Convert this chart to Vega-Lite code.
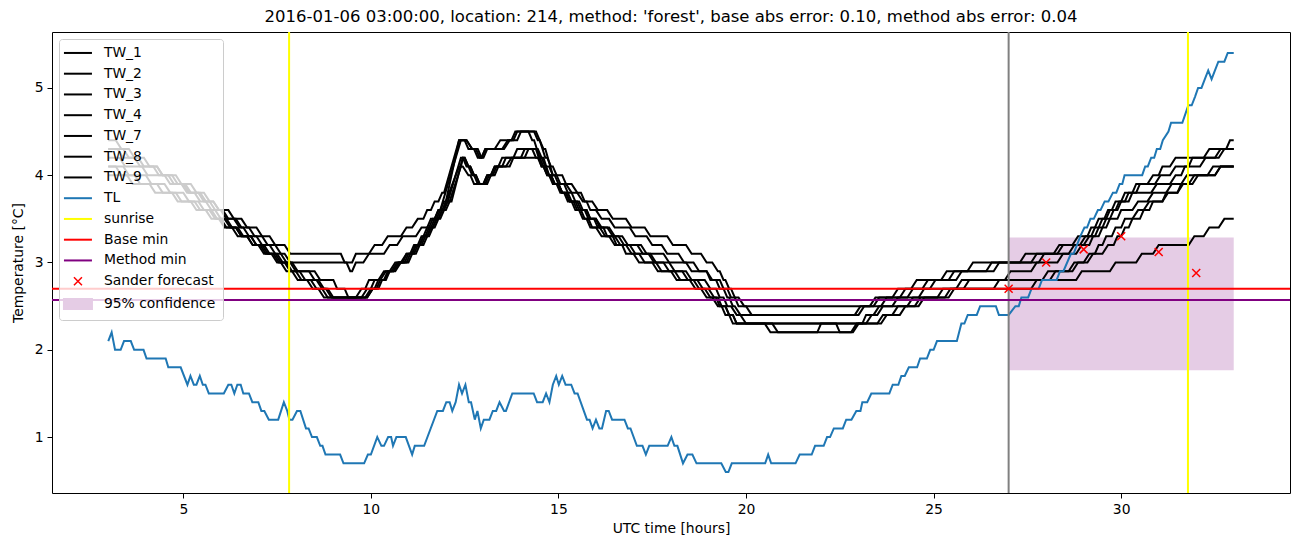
{
  "$schema": "https://vega.github.io/schema/vega-lite/v6.json",
  "width": 1238,
  "height": 461,
  "autosize": {"type": "none"},
  "padding": {"left": 52, "top": 32, "right": 12, "bottom": 54},
  "title": {"text": "2016-01-06 03:00:00, location: 214, method: 'forest', base abs error: 0.10, method abs error: 0.04", "font": "DejaVu Sans", "fontSize": 16.5, "fontWeight": "normal", "color": "black", "offset": 6, "anchor": "middle", "frame": "group"},
  "config": {
    "view": {"stroke": "black", "strokeWidth": 1},
    "axis": {"grid": false, "domain": false, "tickColor": "black", "tickSize": 5, "tickWidth": 1, "labelFont": "DejaVu Sans", "labelFontSize": 13.9, "labelColor": "black", "labelPadding": 4, "titleFont": "DejaVu Sans", "titleFontSize": 13.9, "titleFontWeight": "normal", "titleColor": "black"},
    "legend": {"orient": "top-left", "offset": 7, "padding": 7, "fillColor": "rgba(255,255,255,0.8)", "strokeColor": "#cccccc", "cornerRadius": 3, "labelFont": "DejaVu Sans", "labelFontSize": 13.9, "labelColor": "black", "symbolSize": 784, "symbolOffset": 5, "labelOffset": 19, "rowPadding": 5.75, "zindex": 1}
  },
  "datasets": {
    "tw": [
      {"s":"TW_1","h":3.0,"v":4.4},{"s":"TW_1","h":3.2,"v":4.4},{"s":"TW_1","h":3.35,"v":4.3},{"s":"TW_1","h":3.55,"v":4.3},{"s":"TW_1","h":3.7,"v":4.2},{"s":"TW_1","h":3.95,"v":4.2},{"s":"TW_1","h":4.1,"v":4.1},{"s":"TW_1","h":4.3,"v":4.1},{"s":"TW_1","h":4.45,"v":4.0},{"s":"TW_1","h":4.7,"v":4.0},{"s":"TW_1","h":4.85,"v":3.9},{"s":"TW_1","h":5.05,"v":3.9},{"s":"TW_1","h":5.2,"v":3.8},{"s":"TW_1","h":5.45,"v":3.8},{"s":"TW_1","h":5.6,"v":3.7},{"s":"TW_1","h":5.8,"v":3.7},{"s":"TW_1","h":5.95,"v":3.6},{"s":"TW_1","h":6.2,"v":3.6},{"s":"TW_1","h":6.35,"v":3.5},{"s":"TW_1","h":6.55,"v":3.5},{"s":"TW_1","h":6.7,"v":3.4},{"s":"TW_1","h":6.95,"v":3.4},{"s":"TW_1","h":7.1,"v":3.3},{"s":"TW_1","h":7.3,"v":3.3},{"s":"TW_1","h":7.45,"v":3.2},{"s":"TW_1","h":7.7,"v":3.2},{"s":"TW_1","h":7.85,"v":3.1},{"s":"TW_1","h":9.2,"v":3.1},{"s":"TW_1","h":9.3,"v":3.0},{"s":"TW_1","h":9.5,"v":3.0},{"s":"TW_1","h":9.6,"v":3.1},{"s":"TW_1","h":9.95,"v":3.1},{"s":"TW_1","h":10.1,"v":3.2},{"s":"TW_1","h":10.3,"v":3.2},{"s":"TW_1","h":10.45,"v":3.3},{"s":"TW_1","h":10.8,"v":3.3},{"s":"TW_1","h":10.95,"v":3.4},{"s":"TW_1","h":11.1,"v":3.4},{"s":"TW_1","h":11.25,"v":3.5},{"s":"TW_1","h":11.4,"v":3.5},{"s":"TW_1","h":11.5,"v":3.6},{"s":"TW_1","h":11.6,"v":3.6},{"s":"TW_1","h":11.7,"v":3.7},{"s":"TW_1","h":11.8,"v":3.7},{"s":"TW_1","h":11.9,"v":3.8},{"s":"TW_1","h":11.95,"v":3.8},{"s":"TW_1","h":12.35,"v":4.4},{"s":"TW_1","h":12.55,"v":4.4},{"s":"TW_1","h":12.7,"v":4.3},{"s":"TW_1","h":12.8,"v":4.3},{"s":"TW_1","h":12.9,"v":4.2},{"s":"TW_1","h":12.95,"v":4.2},{"s":"TW_1","h":13.05,"v":4.3},{"s":"TW_1","h":13.5,"v":4.3},{"s":"TW_1","h":13.65,"v":4.4},{"s":"TW_1","h":13.75,"v":4.4},{"s":"TW_1","h":13.85,"v":4.5},{"s":"TW_1","h":14.4,"v":4.5},{"s":"TW_1","h":14.6,"v":4.3},{"s":"TW_1","h":14.65,"v":4.3},{"s":"TW_1","h":14.85,"v":4.0},{"s":"TW_1","h":14.9,"v":4.0},{"s":"TW_1","h":15.0,"v":3.9},{"s":"TW_1","h":15.2,"v":3.9},{"s":"TW_1","h":15.35,"v":3.8},{"s":"TW_1","h":15.5,"v":3.8},{"s":"TW_1","h":15.65,"v":3.7},{"s":"TW_1","h":15.9,"v":3.7},{"s":"TW_1","h":16.05,"v":3.6},{"s":"TW_1","h":16.3,"v":3.6},{"s":"TW_1","h":16.45,"v":3.5},{"s":"TW_1","h":16.8,"v":3.5},{"s":"TW_1","h":16.95,"v":3.4},{"s":"TW_1","h":17.3,"v":3.4},{"s":"TW_1","h":17.45,"v":3.3},{"s":"TW_1","h":17.9,"v":3.3},{"s":"TW_1","h":18.05,"v":3.2},{"s":"TW_1","h":18.4,"v":3.2},{"s":"TW_1","h":18.55,"v":3.1},{"s":"TW_1","h":18.8,"v":3.1},{"s":"TW_1","h":18.95,"v":3.0},{"s":"TW_1","h":19.1,"v":3.0},{"s":"TW_1","h":19.25,"v":2.9},{"s":"TW_1","h":19.3,"v":2.9},{"s":"TW_1","h":19.4,"v":2.8},{"s":"TW_1","h":19.45,"v":2.8},{"s":"TW_1","h":19.55,"v":2.7},{"s":"TW_1","h":19.6,"v":2.7},{"s":"TW_1","h":19.7,"v":2.6},{"s":"TW_1","h":19.8,"v":2.6},{"s":"TW_1","h":19.95,"v":2.5},{"s":"TW_1","h":23.3,"v":2.5},{"s":"TW_1","h":23.45,"v":2.6},{"s":"TW_1","h":23.9,"v":2.6},{"s":"TW_1","h":24.05,"v":2.7},{"s":"TW_1","h":24.4,"v":2.7},{"s":"TW_1","h":24.55,"v":2.8},{"s":"TW_1","h":25.2,"v":2.8},{"s":"TW_1","h":25.35,"v":2.9},{"s":"TW_1","h":25.9,"v":2.9},{"s":"TW_1","h":26.05,"v":3.0},{"s":"TW_1","h":27.3,"v":3.0},{"s":"TW_1","h":27.45,"v":3.1},{"s":"TW_1","h":28.2,"v":3.1},{"s":"TW_1","h":28.35,"v":3.2},{"s":"TW_1","h":28.9,"v":3.2},{"s":"TW_1","h":29.05,"v":3.3},{"s":"TW_1","h":29.2,"v":3.3},{"s":"TW_1","h":29.3,"v":3.4},{"s":"TW_1","h":29.4,"v":3.4},{"s":"TW_1","h":29.5,"v":3.5},{"s":"TW_1","h":29.6,"v":3.5},{"s":"TW_1","h":29.7,"v":3.6},{"s":"TW_1","h":29.85,"v":3.6},{"s":"TW_1","h":29.95,"v":3.7},{"s":"TW_1","h":30.2,"v":3.7},{"s":"TW_1","h":30.3,"v":3.8},{"s":"TW_1","h":30.8,"v":3.8},{"s":"TW_1","h":30.95,"v":3.9},{"s":"TW_1","h":31.3,"v":3.9},{"s":"TW_1","h":31.45,"v":4.0},{"s":"TW_1","h":31.6,"v":4.0},{"s":"TW_1","h":31.7,"v":4.1},{"s":"TW_1","h":31.8,"v":4.1},{"s":"TW_1","h":31.9,"v":4.2},{"s":"TW_1","h":32.5,"v":4.2},{"s":"TW_1","h":32.65,"v":4.3},{"s":"TW_1","h":32.8,"v":4.3},{"s":"TW_1","h":32.9,"v":4.4},{"s":"TW_1","h":33.0,"v":4.4},

      {"s":"TW_2","h":3.0,"v":4.3},{"s":"TW_2","h":3.4,"v":4.3},{"s":"TW_2","h":3.55,"v":4.2},{"s":"TW_2","h":3.8,"v":4.2},{"s":"TW_2","h":3.95,"v":4.1},{"s":"TW_2","h":4.3,"v":4.1},{"s":"TW_2","h":4.45,"v":4.0},{"s":"TW_2","h":4.8,"v":4.0},{"s":"TW_2","h":4.95,"v":3.9},{"s":"TW_2","h":5.2,"v":3.9},{"s":"TW_2","h":5.35,"v":3.8},{"s":"TW_2","h":5.55,"v":3.8},{"s":"TW_2","h":5.7,"v":3.7},{"s":"TW_2","h":5.8,"v":3.7},{"s":"TW_2","h":5.95,"v":3.6},{"s":"TW_2","h":6.05,"v":3.6},{"s":"TW_2","h":6.2,"v":3.5},{"s":"TW_2","h":6.4,"v":3.5},{"s":"TW_2","h":6.55,"v":3.4},{"s":"TW_2","h":6.75,"v":3.4},{"s":"TW_2","h":6.9,"v":3.3},{"s":"TW_2","h":7.1,"v":3.3},{"s":"TW_2","h":7.25,"v":3.2},{"s":"TW_2","h":7.45,"v":3.2},{"s":"TW_2","h":7.6,"v":3.1},{"s":"TW_2","h":7.7,"v":3.1},{"s":"TW_2","h":7.85,"v":3.0},{"s":"TW_2","h":9.35,"v":3.0},{"s":"TW_2","h":9.45,"v":2.9},{"s":"TW_2","h":9.5,"v":2.9},{"s":"TW_2","h":9.6,"v":3.0},{"s":"TW_2","h":9.8,"v":3.0},{"s":"TW_2","h":9.95,"v":3.1},{"s":"TW_2","h":10.35,"v":3.1},{"s":"TW_2","h":10.5,"v":3.2},{"s":"TW_2","h":10.7,"v":3.2},{"s":"TW_2","h":10.85,"v":3.3},{"s":"TW_2","h":11.2,"v":3.3},{"s":"TW_2","h":11.35,"v":3.4},{"s":"TW_2","h":11.5,"v":3.4},{"s":"TW_2","h":11.6,"v":3.5},{"s":"TW_2","h":11.7,"v":3.5},{"s":"TW_2","h":11.8,"v":3.6},{"s":"TW_2","h":11.85,"v":3.6},{"s":"TW_2","h":12.4,"v":4.4},{"s":"TW_2","h":12.55,"v":4.4},{"s":"TW_2","h":12.7,"v":4.3},{"s":"TW_2","h":12.85,"v":4.3},{"s":"TW_2","h":12.95,"v":4.2},{"s":"TW_2","h":13.0,"v":4.2},{"s":"TW_2","h":13.1,"v":4.3},{"s":"TW_2","h":13.55,"v":4.3},{"s":"TW_2","h":13.7,"v":4.4},{"s":"TW_2","h":13.9,"v":4.4},{"s":"TW_2","h":14.0,"v":4.5},{"s":"TW_2","h":14.35,"v":4.5},{"s":"TW_2","h":14.45,"v":4.4},{"s":"TW_2","h":14.5,"v":4.4},{"s":"TW_2","h":14.65,"v":4.2},{"s":"TW_2","h":14.7,"v":4.2},{"s":"TW_2","h":14.8,"v":4.1},{"s":"TW_2","h":14.85,"v":4.1},{"s":"TW_2","h":14.95,"v":4.0},{"s":"TW_2","h":15.1,"v":4.0},{"s":"TW_2","h":15.2,"v":3.9},{"s":"TW_2","h":15.35,"v":3.9},{"s":"TW_2","h":15.5,"v":3.8},{"s":"TW_2","h":15.6,"v":3.8},{"s":"TW_2","h":15.7,"v":3.7},{"s":"TW_2","h":15.75,"v":3.7},{"s":"TW_2","h":15.85,"v":3.6},{"s":"TW_2","h":16.0,"v":3.6},{"s":"TW_2","h":16.15,"v":3.5},{"s":"TW_2","h":16.35,"v":3.5},{"s":"TW_2","h":16.5,"v":3.4},{"s":"TW_2","h":16.9,"v":3.4},{"s":"TW_2","h":17.05,"v":3.3},{"s":"TW_2","h":17.35,"v":3.3},{"s":"TW_2","h":17.5,"v":3.2},{"s":"TW_2","h":17.75,"v":3.2},{"s":"TW_2","h":17.9,"v":3.1},{"s":"TW_2","h":18.2,"v":3.1},{"s":"TW_2","h":18.35,"v":3.0},{"s":"TW_2","h":18.6,"v":3.0},{"s":"TW_2","h":18.75,"v":2.9},{"s":"TW_2","h":18.95,"v":2.9},{"s":"TW_2","h":19.1,"v":2.8},{"s":"TW_2","h":19.2,"v":2.8},{"s":"TW_2","h":19.3,"v":2.7},{"s":"TW_2","h":19.4,"v":2.7},{"s":"TW_2","h":19.5,"v":2.6},{"s":"TW_2","h":19.55,"v":2.6},{"s":"TW_2","h":19.65,"v":2.5},{"s":"TW_2","h":19.7,"v":2.5},{"s":"TW_2","h":19.85,"v":2.4},{"s":"TW_2","h":22.9,"v":2.4},{"s":"TW_2","h":23.05,"v":2.5},{"s":"TW_2","h":23.4,"v":2.5},{"s":"TW_2","h":23.55,"v":2.6},{"s":"TW_2","h":24.1,"v":2.6},{"s":"TW_2","h":24.25,"v":2.7},{"s":"TW_2","h":24.7,"v":2.7},{"s":"TW_2","h":24.85,"v":2.8},{"s":"TW_2","h":25.6,"v":2.8},{"s":"TW_2","h":25.75,"v":2.9},{"s":"TW_2","h":26.6,"v":2.9},{"s":"TW_2","h":26.75,"v":3.0},{"s":"TW_2","h":27.6,"v":3.0},{"s":"TW_2","h":27.75,"v":3.1},{"s":"TW_2","h":28.3,"v":3.1},{"s":"TW_2","h":28.45,"v":3.2},{"s":"TW_2","h":28.7,"v":3.2},{"s":"TW_2","h":28.85,"v":3.3},{"s":"TW_2","h":29.1,"v":3.3},{"s":"TW_2","h":29.2,"v":3.4},{"s":"TW_2","h":29.3,"v":3.4},{"s":"TW_2","h":29.4,"v":3.5},{"s":"TW_2","h":29.55,"v":3.5},{"s":"TW_2","h":29.65,"v":3.6},{"s":"TW_2","h":29.75,"v":3.6},{"s":"TW_2","h":29.85,"v":3.7},{"s":"TW_2","h":30.0,"v":3.7},{"s":"TW_2","h":30.1,"v":3.8},{"s":"TW_2","h":30.4,"v":3.8},{"s":"TW_2","h":30.5,"v":3.9},{"s":"TW_2","h":30.7,"v":3.9},{"s":"TW_2","h":30.85,"v":4.0},{"s":"TW_2","h":31.0,"v":4.0},{"s":"TW_2","h":31.1,"v":4.1},{"s":"TW_2","h":31.3,"v":4.1},{"s":"TW_2","h":31.45,"v":4.2},{"s":"TW_2","h":32.2,"v":4.2},{"s":"TW_2","h":32.35,"v":4.3},{"s":"TW_2","h":33.0,"v":4.3},

      {"s":"TW_3","h":3.0,"v":4.2},{"s":"TW_3","h":3.3,"v":4.2},{"s":"TW_3","h":3.45,"v":4.1},{"s":"TW_3","h":3.9,"v":4.1},{"s":"TW_3","h":4.05,"v":4.0},{"s":"TW_3","h":4.5,"v":4.0},{"s":"TW_3","h":4.65,"v":3.9},{"s":"TW_3","h":5.0,"v":3.9},{"s":"TW_3","h":5.15,"v":3.8},{"s":"TW_3","h":5.4,"v":3.8},{"s":"TW_3","h":5.55,"v":3.7},{"s":"TW_3","h":5.7,"v":3.7},{"s":"TW_3","h":5.85,"v":3.6},{"s":"TW_3","h":6.0,"v":3.6},{"s":"TW_3","h":6.15,"v":3.5},{"s":"TW_3","h":6.35,"v":3.5},{"s":"TW_3","h":6.5,"v":3.4},{"s":"TW_3","h":6.6,"v":3.4},{"s":"TW_3","h":6.75,"v":3.3},{"s":"TW_3","h":6.95,"v":3.3},{"s":"TW_3","h":7.1,"v":3.2},{"s":"TW_3","h":7.3,"v":3.2},{"s":"TW_3","h":7.45,"v":3.1},{"s":"TW_3","h":7.6,"v":3.1},{"s":"TW_3","h":7.75,"v":3.0},{"s":"TW_3","h":7.9,"v":3.0},{"s":"TW_3","h":8.05,"v":2.9},{"s":"TW_3","h":8.5,"v":2.9},{"s":"TW_3","h":8.65,"v":2.8},{"s":"TW_3","h":9.0,"v":2.8},{"s":"TW_3","h":9.1,"v":2.7},{"s":"TW_3","h":9.3,"v":2.7},{"s":"TW_3","h":9.4,"v":2.6},{"s":"TW_3","h":9.6,"v":2.6},{"s":"TW_3","h":9.75,"v":2.7},{"s":"TW_3","h":9.85,"v":2.7},{"s":"TW_3","h":9.95,"v":2.8},{"s":"TW_3","h":10.2,"v":2.8},{"s":"TW_3","h":10.35,"v":2.9},{"s":"TW_3","h":10.5,"v":2.9},{"s":"TW_3","h":10.65,"v":3.0},{"s":"TW_3","h":10.8,"v":3.0},{"s":"TW_3","h":10.95,"v":3.1},{"s":"TW_3","h":11.1,"v":3.1},{"s":"TW_3","h":11.2,"v":3.2},{"s":"TW_3","h":11.3,"v":3.2},{"s":"TW_3","h":11.4,"v":3.3},{"s":"TW_3","h":11.5,"v":3.3},{"s":"TW_3","h":11.6,"v":3.4},{"s":"TW_3","h":11.65,"v":3.4},{"s":"TW_3","h":11.75,"v":3.5},{"s":"TW_3","h":11.8,"v":3.5},{"s":"TW_3","h":11.9,"v":3.6},{"s":"TW_3","h":11.95,"v":3.6},{"s":"TW_3","h":12.35,"v":4.4},{"s":"TW_3","h":12.5,"v":4.4},{"s":"TW_3","h":12.6,"v":4.3},{"s":"TW_3","h":12.75,"v":4.3},{"s":"TW_3","h":12.85,"v":4.2},{"s":"TW_3","h":12.95,"v":4.2},{"s":"TW_3","h":13.05,"v":4.3},{"s":"TW_3","h":13.3,"v":4.3},{"s":"TW_3","h":13.45,"v":4.4},{"s":"TW_3","h":13.8,"v":4.4},{"s":"TW_3","h":13.9,"v":4.5},{"s":"TW_3","h":14.2,"v":4.5},{"s":"TW_3","h":14.3,"v":4.4},{"s":"TW_3","h":14.35,"v":4.4},{"s":"TW_3","h":14.5,"v":4.2},{"s":"TW_3","h":14.55,"v":4.2},{"s":"TW_3","h":14.65,"v":4.1},{"s":"TW_3","h":14.75,"v":4.1},{"s":"TW_3","h":14.85,"v":4.0},{"s":"TW_3","h":14.95,"v":4.0},{"s":"TW_3","h":15.05,"v":3.9},{"s":"TW_3","h":15.15,"v":3.9},{"s":"TW_3","h":15.25,"v":3.8},{"s":"TW_3","h":15.35,"v":3.8},{"s":"TW_3","h":15.45,"v":3.7},{"s":"TW_3","h":15.55,"v":3.7},{"s":"TW_3","h":15.65,"v":3.6},{"s":"TW_3","h":15.75,"v":3.6},{"s":"TW_3","h":15.85,"v":3.5},{"s":"TW_3","h":16.0,"v":3.5},{"s":"TW_3","h":16.15,"v":3.4},{"s":"TW_3","h":16.3,"v":3.4},{"s":"TW_3","h":16.45,"v":3.3},{"s":"TW_3","h":16.6,"v":3.3},{"s":"TW_3","h":16.75,"v":3.2},{"s":"TW_3","h":17.2,"v":3.2},{"s":"TW_3","h":17.35,"v":3.1},{"s":"TW_3","h":17.8,"v":3.1},{"s":"TW_3","h":17.95,"v":3.0},{"s":"TW_3","h":18.4,"v":3.0},{"s":"TW_3","h":18.55,"v":2.9},{"s":"TW_3","h":18.95,"v":2.9},{"s":"TW_3","h":19.05,"v":2.8},{"s":"TW_3","h":19.3,"v":2.8},{"s":"TW_3","h":19.4,"v":2.7},{"s":"TW_3","h":19.5,"v":2.7},{"s":"TW_3","h":19.6,"v":2.6},{"s":"TW_3","h":19.7,"v":2.6},{"s":"TW_3","h":19.8,"v":2.5},{"s":"TW_3","h":20.0,"v":2.5},{"s":"TW_3","h":20.15,"v":2.4},{"s":"TW_3","h":23.0,"v":2.4},{"s":"TW_3","h":23.15,"v":2.5},{"s":"TW_3","h":23.6,"v":2.5},{"s":"TW_3","h":23.75,"v":2.6},{"s":"TW_3","h":24.3,"v":2.6},{"s":"TW_3","h":24.45,"v":2.7},{"s":"TW_3","h":24.9,"v":2.7},{"s":"TW_3","h":25.05,"v":2.8},{"s":"TW_3","h":25.4,"v":2.8},{"s":"TW_3","h":25.55,"v":2.9},{"s":"TW_3","h":26.4,"v":2.9},{"s":"TW_3","h":26.55,"v":3.0},{"s":"TW_3","h":27.8,"v":3.0},{"s":"TW_3","h":27.95,"v":3.1},{"s":"TW_3","h":28.6,"v":3.1},{"s":"TW_3","h":28.75,"v":3.2},{"s":"TW_3","h":29.0,"v":3.2},{"s":"TW_3","h":29.15,"v":3.3},{"s":"TW_3","h":29.3,"v":3.3},{"s":"TW_3","h":29.4,"v":3.4},{"s":"TW_3","h":29.5,"v":3.4},{"s":"TW_3","h":29.6,"v":3.5},{"s":"TW_3","h":29.7,"v":3.5},{"s":"TW_3","h":29.8,"v":3.6},{"s":"TW_3","h":29.9,"v":3.6},{"s":"TW_3","h":30.0,"v":3.7},{"s":"TW_3","h":30.1,"v":3.7},{"s":"TW_3","h":30.2,"v":3.8},{"s":"TW_3","h":30.3,"v":3.8},{"s":"TW_3","h":30.4,"v":3.9},{"s":"TW_3","h":30.9,"v":3.9},{"s":"TW_3","h":31.05,"v":4.0},{"s":"TW_3","h":31.3,"v":4.0},{"s":"TW_3","h":31.45,"v":4.1},{"s":"TW_3","h":32.1,"v":4.1},{"s":"TW_3","h":32.25,"v":4.2},{"s":"TW_3","h":32.6,"v":4.2},{"s":"TW_3","h":32.75,"v":4.3},{"s":"TW_3","h":33.0,"v":4.3},

      {"s":"TW_4","h":3.0,"v":4.1},{"s":"TW_4","h":3.4,"v":4.1},{"s":"TW_4","h":3.55,"v":4.0},{"s":"TW_4","h":4.0,"v":4.0},{"s":"TW_4","h":4.15,"v":3.9},{"s":"TW_4","h":4.5,"v":3.9},{"s":"TW_4","h":4.65,"v":3.8},{"s":"TW_4","h":5.0,"v":3.8},{"s":"TW_4","h":5.15,"v":3.7},{"s":"TW_4","h":5.4,"v":3.7},{"s":"TW_4","h":5.55,"v":3.6},{"s":"TW_4","h":5.75,"v":3.6},{"s":"TW_4","h":5.9,"v":3.5},{"s":"TW_4","h":6.1,"v":3.5},{"s":"TW_4","h":6.25,"v":3.4},{"s":"TW_4","h":6.4,"v":3.4},{"s":"TW_4","h":6.55,"v":3.3},{"s":"TW_4","h":6.7,"v":3.3},{"s":"TW_4","h":6.85,"v":3.2},{"s":"TW_4","h":7.05,"v":3.2},{"s":"TW_4","h":7.2,"v":3.1},{"s":"TW_4","h":7.4,"v":3.1},{"s":"TW_4","h":7.55,"v":3.0},{"s":"TW_4","h":7.7,"v":3.0},{"s":"TW_4","h":7.85,"v":2.9},{"s":"TW_4","h":8.1,"v":2.9},{"s":"TW_4","h":8.25,"v":2.8},{"s":"TW_4","h":8.55,"v":2.8},{"s":"TW_4","h":8.7,"v":2.7},{"s":"TW_4","h":8.8,"v":2.7},{"s":"TW_4","h":8.95,"v":2.6},{"s":"TW_4","h":9.9,"v":2.6},{"s":"TW_4","h":10.05,"v":2.7},{"s":"TW_4","h":10.2,"v":2.7},{"s":"TW_4","h":10.3,"v":2.8},{"s":"TW_4","h":10.4,"v":2.8},{"s":"TW_4","h":10.5,"v":2.9},{"s":"TW_4","h":10.6,"v":2.9},{"s":"TW_4","h":10.75,"v":3.0},{"s":"TW_4","h":10.9,"v":3.0},{"s":"TW_4","h":11.0,"v":3.1},{"s":"TW_4","h":11.1,"v":3.1},{"s":"TW_4","h":11.2,"v":3.2},{"s":"TW_4","h":11.3,"v":3.2},{"s":"TW_4","h":11.4,"v":3.3},{"s":"TW_4","h":11.45,"v":3.3},{"s":"TW_4","h":11.55,"v":3.4},{"s":"TW_4","h":11.6,"v":3.4},{"s":"TW_4","h":11.7,"v":3.5},{"s":"TW_4","h":11.75,"v":3.5},{"s":"TW_4","h":11.85,"v":3.6},{"s":"TW_4","h":11.9,"v":3.6},{"s":"TW_4","h":12.0,"v":3.7},{"s":"TW_4","h":12.05,"v":3.7},{"s":"TW_4","h":12.4,"v":4.2},{"s":"TW_4","h":12.45,"v":4.2},{"s":"TW_4","h":12.55,"v":4.1},{"s":"TW_4","h":12.6,"v":4.1},{"s":"TW_4","h":12.7,"v":4.0},{"s":"TW_4","h":12.75,"v":4.0},{"s":"TW_4","h":12.85,"v":3.9},{"s":"TW_4","h":13.05,"v":3.9},{"s":"TW_4","h":13.15,"v":4.0},{"s":"TW_4","h":13.25,"v":4.0},{"s":"TW_4","h":13.35,"v":4.1},{"s":"TW_4","h":13.6,"v":4.1},{"s":"TW_4","h":13.75,"v":4.2},{"s":"TW_4","h":14.0,"v":4.2},{"s":"TW_4","h":14.1,"v":4.3},{"s":"TW_4","h":14.45,"v":4.3},{"s":"TW_4","h":14.55,"v":4.2},{"s":"TW_4","h":14.6,"v":4.2},{"s":"TW_4","h":14.75,"v":4.0},{"s":"TW_4","h":14.8,"v":4.0},{"s":"TW_4","h":14.9,"v":3.9},{"s":"TW_4","h":15.0,"v":3.9},{"s":"TW_4","h":15.1,"v":3.8},{"s":"TW_4","h":15.2,"v":3.8},{"s":"TW_4","h":15.3,"v":3.7},{"s":"TW_4","h":15.4,"v":3.7},{"s":"TW_4","h":15.5,"v":3.6},{"s":"TW_4","h":15.6,"v":3.6},{"s":"TW_4","h":15.7,"v":3.5},{"s":"TW_4","h":15.8,"v":3.5},{"s":"TW_4","h":15.9,"v":3.4},{"s":"TW_4","h":16.1,"v":3.4},{"s":"TW_4","h":16.25,"v":3.3},{"s":"TW_4","h":16.5,"v":3.3},{"s":"TW_4","h":16.65,"v":3.2},{"s":"TW_4","h":16.9,"v":3.2},{"s":"TW_4","h":17.05,"v":3.1},{"s":"TW_4","h":17.4,"v":3.1},{"s":"TW_4","h":17.55,"v":3.0},{"s":"TW_4","h":17.8,"v":3.0},{"s":"TW_4","h":17.95,"v":2.9},{"s":"TW_4","h":18.4,"v":2.9},{"s":"TW_4","h":18.55,"v":2.8},{"s":"TW_4","h":18.9,"v":2.8},{"s":"TW_4","h":19.05,"v":2.7},{"s":"TW_4","h":19.2,"v":2.7},{"s":"TW_4","h":19.3,"v":2.6},{"s":"TW_4","h":19.4,"v":2.6},{"s":"TW_4","h":19.5,"v":2.5},{"s":"TW_4","h":19.6,"v":2.5},{"s":"TW_4","h":19.75,"v":2.4},{"s":"TW_4","h":19.85,"v":2.4},{"s":"TW_4","h":20.0,"v":2.3},{"s":"TW_4","h":23.5,"v":2.3},{"s":"TW_4","h":23.65,"v":2.4},{"s":"TW_4","h":23.9,"v":2.4},{"s":"TW_4","h":24.05,"v":2.5},{"s":"TW_4","h":24.5,"v":2.5},{"s":"TW_4","h":24.65,"v":2.6},{"s":"TW_4","h":25.1,"v":2.6},{"s":"TW_4","h":25.25,"v":2.7},{"s":"TW_4","h":25.8,"v":2.7},{"s":"TW_4","h":25.95,"v":2.8},{"s":"TW_4","h":26.9,"v":2.8},{"s":"TW_4","h":27.05,"v":2.9},{"s":"TW_4","h":27.6,"v":2.9},{"s":"TW_4","h":27.75,"v":3.0},{"s":"TW_4","h":28.3,"v":3.0},{"s":"TW_4","h":28.45,"v":3.1},{"s":"TW_4","h":28.8,"v":3.1},{"s":"TW_4","h":28.95,"v":3.2},{"s":"TW_4","h":29.15,"v":3.2},{"s":"TW_4","h":29.25,"v":3.3},{"s":"TW_4","h":29.4,"v":3.3},{"s":"TW_4","h":29.5,"v":3.4},{"s":"TW_4","h":29.6,"v":3.4},{"s":"TW_4","h":29.7,"v":3.5},{"s":"TW_4","h":29.9,"v":3.5},{"s":"TW_4","h":30.0,"v":3.6},{"s":"TW_4","h":30.3,"v":3.6},{"s":"TW_4","h":30.45,"v":3.7},{"s":"TW_4","h":30.7,"v":3.7},{"s":"TW_4","h":30.85,"v":3.8},{"s":"TW_4","h":31.2,"v":3.8},{"s":"TW_4","h":31.35,"v":3.9},{"s":"TW_4","h":31.6,"v":3.9},{"s":"TW_4","h":31.75,"v":4.0},{"s":"TW_4","h":32.3,"v":4.0},{"s":"TW_4","h":32.45,"v":4.1},{"s":"TW_4","h":33.0,"v":4.1},

      {"s":"TW_7","h":3.0,"v":4.1},{"s":"TW_7","h":3.2,"v":4.1},{"s":"TW_7","h":3.35,"v":4.0},{"s":"TW_7","h":3.7,"v":4.0},{"s":"TW_7","h":3.85,"v":3.9},{"s":"TW_7","h":4.3,"v":3.9},{"s":"TW_7","h":4.45,"v":3.8},{"s":"TW_7","h":4.8,"v":3.8},{"s":"TW_7","h":4.95,"v":3.7},{"s":"TW_7","h":5.3,"v":3.7},{"s":"TW_7","h":5.45,"v":3.6},{"s":"TW_7","h":5.7,"v":3.6},{"s":"TW_7","h":5.85,"v":3.5},{"s":"TW_7","h":6.0,"v":3.5},{"s":"TW_7","h":6.15,"v":3.4},{"s":"TW_7","h":6.4,"v":3.4},{"s":"TW_7","h":6.55,"v":3.3},{"s":"TW_7","h":6.8,"v":3.3},{"s":"TW_7","h":6.95,"v":3.2},{"s":"TW_7","h":7.1,"v":3.2},{"s":"TW_7","h":7.25,"v":3.1},{"s":"TW_7","h":7.45,"v":3.1},{"s":"TW_7","h":7.6,"v":3.0},{"s":"TW_7","h":7.75,"v":3.0},{"s":"TW_7","h":7.9,"v":2.9},{"s":"TW_7","h":8.0,"v":2.9},{"s":"TW_7","h":8.15,"v":2.8},{"s":"TW_7","h":8.4,"v":2.8},{"s":"TW_7","h":8.55,"v":2.7},{"s":"TW_7","h":8.7,"v":2.7},{"s":"TW_7","h":8.85,"v":2.6},{"s":"TW_7","h":9.75,"v":2.6},{"s":"TW_7","h":9.9,"v":2.7},{"s":"TW_7","h":10.0,"v":2.7},{"s":"TW_7","h":10.1,"v":2.8},{"s":"TW_7","h":10.25,"v":2.8},{"s":"TW_7","h":10.4,"v":2.9},{"s":"TW_7","h":10.55,"v":2.9},{"s":"TW_7","h":10.7,"v":3.0},{"s":"TW_7","h":10.85,"v":3.0},{"s":"TW_7","h":10.95,"v":3.1},{"s":"TW_7","h":11.05,"v":3.1},{"s":"TW_7","h":11.15,"v":3.2},{"s":"TW_7","h":11.25,"v":3.2},{"s":"TW_7","h":11.35,"v":3.3},{"s":"TW_7","h":11.4,"v":3.3},{"s":"TW_7","h":11.5,"v":3.4},{"s":"TW_7","h":11.55,"v":3.4},{"s":"TW_7","h":11.65,"v":3.5},{"s":"TW_7","h":11.7,"v":3.5},{"s":"TW_7","h":11.8,"v":3.6},{"s":"TW_7","h":11.85,"v":3.6},{"s":"TW_7","h":11.95,"v":3.7},{"s":"TW_7","h":12.0,"v":3.7},{"s":"TW_7","h":12.35,"v":4.1},{"s":"TW_7","h":12.4,"v":4.1},{"s":"TW_7","h":12.45,"v":4.2},{"s":"TW_7","h":12.5,"v":4.2},{"s":"TW_7","h":12.6,"v":4.1},{"s":"TW_7","h":12.65,"v":4.1},{"s":"TW_7","h":12.75,"v":4.0},{"s":"TW_7","h":12.8,"v":4.0},{"s":"TW_7","h":12.9,"v":3.9},{"s":"TW_7","h":13.0,"v":3.9},{"s":"TW_7","h":13.1,"v":4.0},{"s":"TW_7","h":13.2,"v":4.0},{"s":"TW_7","h":13.3,"v":4.1},{"s":"TW_7","h":13.4,"v":4.1},{"s":"TW_7","h":13.5,"v":4.2},{"s":"TW_7","h":13.8,"v":4.2},{"s":"TW_7","h":13.9,"v":4.3},{"s":"TW_7","h":14.3,"v":4.3},{"s":"TW_7","h":14.4,"v":4.2},{"s":"TW_7","h":14.45,"v":4.2},{"s":"TW_7","h":14.55,"v":4.1},{"s":"TW_7","h":14.6,"v":4.1},{"s":"TW_7","h":14.7,"v":4.0},{"s":"TW_7","h":14.75,"v":4.0},{"s":"TW_7","h":14.85,"v":3.9},{"s":"TW_7","h":14.95,"v":3.9},{"s":"TW_7","h":15.05,"v":3.8},{"s":"TW_7","h":15.15,"v":3.8},{"s":"TW_7","h":15.25,"v":3.7},{"s":"TW_7","h":15.35,"v":3.7},{"s":"TW_7","h":15.45,"v":3.6},{"s":"TW_7","h":15.55,"v":3.6},{"s":"TW_7","h":15.65,"v":3.5},{"s":"TW_7","h":15.75,"v":3.5},{"s":"TW_7","h":15.85,"v":3.4},{"s":"TW_7","h":16.0,"v":3.4},{"s":"TW_7","h":16.15,"v":3.3},{"s":"TW_7","h":16.35,"v":3.3},{"s":"TW_7","h":16.5,"v":3.2},{"s":"TW_7","h":16.8,"v":3.2},{"s":"TW_7","h":16.95,"v":3.1},{"s":"TW_7","h":17.15,"v":3.1},{"s":"TW_7","h":17.3,"v":3.0},{"s":"TW_7","h":17.6,"v":3.0},{"s":"TW_7","h":17.75,"v":2.9},{"s":"TW_7","h":18.1,"v":2.9},{"s":"TW_7","h":18.25,"v":2.8},{"s":"TW_7","h":18.6,"v":2.8},{"s":"TW_7","h":18.75,"v":2.7},{"s":"TW_7","h":18.9,"v":2.7},{"s":"TW_7","h":19.05,"v":2.6},{"s":"TW_7","h":19.2,"v":2.6},{"s":"TW_7","h":19.3,"v":2.5},{"s":"TW_7","h":19.45,"v":2.5},{"s":"TW_7","h":19.55,"v":2.4},{"s":"TW_7","h":19.65,"v":2.4},{"s":"TW_7","h":19.75,"v":2.3},{"s":"TW_7","h":23.6,"v":2.3},{"s":"TW_7","h":23.75,"v":2.4},{"s":"TW_7","h":24.1,"v":2.4},{"s":"TW_7","h":24.25,"v":2.5},{"s":"TW_7","h":24.6,"v":2.5},{"s":"TW_7","h":24.75,"v":2.6},{"s":"TW_7","h":25.3,"v":2.6},{"s":"TW_7","h":25.45,"v":2.7},{"s":"TW_7","h":26.6,"v":2.7},{"s":"TW_7","h":26.75,"v":2.8},{"s":"TW_7","h":27.9,"v":2.8},{"s":"TW_7","h":28.05,"v":2.9},{"s":"TW_7","h":28.6,"v":2.9},{"s":"TW_7","h":28.75,"v":3.0},{"s":"TW_7","h":29.0,"v":3.0},{"s":"TW_7","h":29.15,"v":3.1},{"s":"TW_7","h":29.3,"v":3.1},{"s":"TW_7","h":29.4,"v":3.2},{"s":"TW_7","h":29.5,"v":3.2},{"s":"TW_7","h":29.6,"v":3.3},{"s":"TW_7","h":29.75,"v":3.3},{"s":"TW_7","h":29.85,"v":3.4},{"s":"TW_7","h":30.0,"v":3.4},{"s":"TW_7","h":30.1,"v":3.5},{"s":"TW_7","h":30.3,"v":3.5},{"s":"TW_7","h":30.45,"v":3.6},{"s":"TW_7","h":30.6,"v":3.6},{"s":"TW_7","h":30.75,"v":3.7},{"s":"TW_7","h":31.1,"v":3.7},{"s":"TW_7","h":31.25,"v":3.8},{"s":"TW_7","h":31.5,"v":3.8},{"s":"TW_7","h":31.65,"v":3.9},{"s":"TW_7","h":31.8,"v":3.9},{"s":"TW_7","h":31.95,"v":4.0},{"s":"TW_7","h":32.5,"v":4.0},{"s":"TW_7","h":32.65,"v":4.1},{"s":"TW_7","h":33.0,"v":4.1},

      {"s":"TW_8","h":3.0,"v":4.0},{"s":"TW_8","h":3.5,"v":4.0},{"s":"TW_8","h":3.65,"v":3.9},{"s":"TW_8","h":4.1,"v":3.9},{"s":"TW_8","h":4.25,"v":3.8},{"s":"TW_8","h":4.7,"v":3.8},{"s":"TW_8","h":4.85,"v":3.7},{"s":"TW_8","h":5.2,"v":3.7},{"s":"TW_8","h":5.35,"v":3.6},{"s":"TW_8","h":5.6,"v":3.6},{"s":"TW_8","h":5.75,"v":3.5},{"s":"TW_8","h":5.95,"v":3.5},{"s":"TW_8","h":6.1,"v":3.4},{"s":"TW_8","h":6.3,"v":3.4},{"s":"TW_8","h":6.45,"v":3.3},{"s":"TW_8","h":6.7,"v":3.3},{"s":"TW_8","h":6.85,"v":3.2},{"s":"TW_8","h":7.0,"v":3.2},{"s":"TW_8","h":7.15,"v":3.1},{"s":"TW_8","h":7.35,"v":3.1},{"s":"TW_8","h":7.5,"v":3.0},{"s":"TW_8","h":7.6,"v":3.0},{"s":"TW_8","h":7.75,"v":2.9},{"s":"TW_8","h":7.9,"v":2.9},{"s":"TW_8","h":8.05,"v":2.8},{"s":"TW_8","h":8.3,"v":2.8},{"s":"TW_8","h":8.45,"v":2.7},{"s":"TW_8","h":8.6,"v":2.7},{"s":"TW_8","h":8.75,"v":2.6},{"s":"TW_8","h":9.85,"v":2.6},{"s":"TW_8","h":10.0,"v":2.7},{"s":"TW_8","h":10.1,"v":2.7},{"s":"TW_8","h":10.2,"v":2.8},{"s":"TW_8","h":10.35,"v":2.8},{"s":"TW_8","h":10.5,"v":2.9},{"s":"TW_8","h":10.65,"v":2.9},{"s":"TW_8","h":10.8,"v":3.0},{"s":"TW_8","h":11.0,"v":3.0},{"s":"TW_8","h":11.1,"v":3.1},{"s":"TW_8","h":11.2,"v":3.1},{"s":"TW_8","h":11.3,"v":3.2},{"s":"TW_8","h":11.4,"v":3.2},{"s":"TW_8","h":11.5,"v":3.3},{"s":"TW_8","h":11.55,"v":3.3},{"s":"TW_8","h":11.65,"v":3.4},{"s":"TW_8","h":11.7,"v":3.4},{"s":"TW_8","h":11.8,"v":3.5},{"s":"TW_8","h":11.85,"v":3.5},{"s":"TW_8","h":11.95,"v":3.6},{"s":"TW_8","h":12.0,"v":3.6},{"s":"TW_8","h":12.1,"v":3.7},{"s":"TW_8","h":12.15,"v":3.7},{"s":"TW_8","h":12.45,"v":4.2},{"s":"TW_8","h":12.5,"v":4.2},{"s":"TW_8","h":12.6,"v":4.1},{"s":"TW_8","h":12.65,"v":4.1},{"s":"TW_8","h":12.75,"v":4.0},{"s":"TW_8","h":12.8,"v":4.0},{"s":"TW_8","h":12.9,"v":3.9},{"s":"TW_8","h":13.1,"v":3.9},{"s":"TW_8","h":13.2,"v":4.0},{"s":"TW_8","h":13.3,"v":4.0},{"s":"TW_8","h":13.4,"v":4.1},{"s":"TW_8","h":13.7,"v":4.1},{"s":"TW_8","h":13.8,"v":4.2},{"s":"TW_8","h":14.5,"v":4.2},{"s":"TW_8","h":14.6,"v":4.1},{"s":"TW_8","h":14.65,"v":4.1},{"s":"TW_8","h":14.75,"v":4.0},{"s":"TW_8","h":14.8,"v":4.0},{"s":"TW_8","h":14.9,"v":3.9},{"s":"TW_8","h":15.0,"v":3.9},{"s":"TW_8","h":15.1,"v":3.8},{"s":"TW_8","h":15.2,"v":3.8},{"s":"TW_8","h":15.3,"v":3.7},{"s":"TW_8","h":15.45,"v":3.7},{"s":"TW_8","h":15.55,"v":3.6},{"s":"TW_8","h":15.7,"v":3.6},{"s":"TW_8","h":15.8,"v":3.5},{"s":"TW_8","h":15.95,"v":3.5},{"s":"TW_8","h":16.05,"v":3.4},{"s":"TW_8","h":16.2,"v":3.4},{"s":"TW_8","h":16.3,"v":3.3},{"s":"TW_8","h":16.45,"v":3.3},{"s":"TW_8","h":16.55,"v":3.2},{"s":"TW_8","h":16.7,"v":3.2},{"s":"TW_8","h":16.8,"v":3.1},{"s":"TW_8","h":17.0,"v":3.1},{"s":"TW_8","h":17.15,"v":3.0},{"s":"TW_8","h":17.5,"v":3.0},{"s":"TW_8","h":17.65,"v":2.9},{"s":"TW_8","h":18.0,"v":2.9},{"s":"TW_8","h":18.15,"v":2.8},{"s":"TW_8","h":18.5,"v":2.8},{"s":"TW_8","h":18.65,"v":2.7},{"s":"TW_8","h":18.8,"v":2.7},{"s":"TW_8","h":18.95,"v":2.6},{"s":"TW_8","h":19.1,"v":2.6},{"s":"TW_8","h":19.25,"v":2.5},{"s":"TW_8","h":19.35,"v":2.5},{"s":"TW_8","h":19.45,"v":2.4},{"s":"TW_8","h":19.55,"v":2.4},{"s":"TW_8","h":19.65,"v":2.3},{"s":"TW_8","h":20.7,"v":2.3},{"s":"TW_8","h":20.85,"v":2.2},{"s":"TW_8","h":21.9,"v":2.2},{"s":"TW_8","h":22.0,"v":2.3},{"s":"TW_8","h":22.4,"v":2.3},{"s":"TW_8","h":22.5,"v":2.2},{"s":"TW_8","h":22.85,"v":2.2},{"s":"TW_8","h":23.0,"v":2.3},{"s":"TW_8","h":23.1,"v":2.3},{"s":"TW_8","h":23.2,"v":2.4},{"s":"TW_8","h":23.4,"v":2.4},{"s":"TW_8","h":23.55,"v":2.5},{"s":"TW_8","h":23.9,"v":2.5},{"s":"TW_8","h":24.05,"v":2.6},{"s":"TW_8","h":24.6,"v":2.6},{"s":"TW_8","h":24.75,"v":2.7},{"s":"TW_8","h":25.6,"v":2.7},{"s":"TW_8","h":25.75,"v":2.8},{"s":"TW_8","h":28.1,"v":2.8},{"s":"TW_8","h":28.25,"v":2.9},{"s":"TW_8","h":28.7,"v":2.9},{"s":"TW_8","h":28.85,"v":3.0},{"s":"TW_8","h":29.1,"v":3.0},{"s":"TW_8","h":29.25,"v":3.1},{"s":"TW_8","h":29.5,"v":3.1},{"s":"TW_8","h":29.65,"v":3.2},{"s":"TW_8","h":29.8,"v":3.2},{"s":"TW_8","h":29.9,"v":3.3},{"s":"TW_8","h":30.0,"v":3.3},{"s":"TW_8","h":30.1,"v":3.4},{"s":"TW_8","h":30.2,"v":3.4},{"s":"TW_8","h":30.3,"v":3.5},{"s":"TW_8","h":30.5,"v":3.5},{"s":"TW_8","h":30.6,"v":3.6},{"s":"TW_8","h":30.75,"v":3.6},{"s":"TW_8","h":30.85,"v":3.7},{"s":"TW_8","h":31.1,"v":3.7},{"s":"TW_8","h":31.2,"v":3.8},{"s":"TW_8","h":31.5,"v":3.8},{"s":"TW_8","h":31.6,"v":3.9},{"s":"TW_8","h":31.9,"v":3.9},{"s":"TW_8","h":32.05,"v":4.0},{"s":"TW_8","h":32.5,"v":4.0},{"s":"TW_8","h":32.65,"v":4.1},{"s":"TW_8","h":33.0,"v":4.1},

      {"s":"TW_9","h":3.0,"v":4.3},{"s":"TW_9","h":3.25,"v":4.3},{"s":"TW_9","h":3.4,"v":4.2},{"s":"TW_9","h":3.7,"v":4.2},{"s":"TW_9","h":3.85,"v":4.1},{"s":"TW_9","h":4.2,"v":4.1},{"s":"TW_9","h":4.35,"v":4.0},{"s":"TW_9","h":4.6,"v":4.0},{"s":"TW_9","h":4.75,"v":3.9},{"s":"TW_9","h":4.95,"v":3.9},{"s":"TW_9","h":5.1,"v":3.8},{"s":"TW_9","h":5.3,"v":3.8},{"s":"TW_9","h":5.45,"v":3.7},{"s":"TW_9","h":5.6,"v":3.7},{"s":"TW_9","h":5.75,"v":3.6},{"s":"TW_9","h":5.85,"v":3.6},{"s":"TW_9","h":6.0,"v":3.5},{"s":"TW_9","h":6.15,"v":3.5},{"s":"TW_9","h":6.3,"v":3.4},{"s":"TW_9","h":6.45,"v":3.4},{"s":"TW_9","h":6.6,"v":3.3},{"s":"TW_9","h":6.8,"v":3.3},{"s":"TW_9","h":6.95,"v":3.2},{"s":"TW_9","h":7.15,"v":3.2},{"s":"TW_9","h":7.3,"v":3.1},{"s":"TW_9","h":7.5,"v":3.1},{"s":"TW_9","h":7.65,"v":3.0},{"s":"TW_9","h":7.85,"v":3.0},{"s":"TW_9","h":8.0,"v":2.9},{"s":"TW_9","h":8.35,"v":2.9},{"s":"TW_9","h":8.5,"v":2.8},{"s":"TW_9","h":8.6,"v":2.8},{"s":"TW_9","h":8.75,"v":2.7},{"s":"TW_9","h":8.85,"v":2.7},{"s":"TW_9","h":9.0,"v":2.6},{"s":"TW_9","h":9.9,"v":2.6},{"s":"TW_9","h":10.05,"v":2.7},{"s":"TW_9","h":10.15,"v":2.7},{"s":"TW_9","h":10.25,"v":2.8},{"s":"TW_9","h":10.35,"v":2.8},{"s":"TW_9","h":10.45,"v":2.9},{"s":"TW_9","h":10.6,"v":2.9},{"s":"TW_9","h":10.75,"v":3.0},{"s":"TW_9","h":10.95,"v":3.0},{"s":"TW_9","h":11.05,"v":3.1},{"s":"TW_9","h":11.15,"v":3.1},{"s":"TW_9","h":11.25,"v":3.2},{"s":"TW_9","h":11.35,"v":3.2},{"s":"TW_9","h":11.45,"v":3.3},{"s":"TW_9","h":11.5,"v":3.3},{"s":"TW_9","h":11.6,"v":3.4},{"s":"TW_9","h":11.65,"v":3.4},{"s":"TW_9","h":11.75,"v":3.5},{"s":"TW_9","h":11.8,"v":3.5},{"s":"TW_9","h":11.9,"v":3.6},{"s":"TW_9","h":11.95,"v":3.6},{"s":"TW_9","h":12.05,"v":3.7},{"s":"TW_9","h":12.1,"v":3.7},{"s":"TW_9","h":12.4,"v":4.1},{"s":"TW_9","h":12.45,"v":4.1},{"s":"TW_9","h":12.6,"v":4.0},{"s":"TW_9","h":12.65,"v":4.0},{"s":"TW_9","h":12.75,"v":3.9},{"s":"TW_9","h":13.0,"v":3.9},{"s":"TW_9","h":13.1,"v":4.0},{"s":"TW_9","h":13.2,"v":4.0},{"s":"TW_9","h":13.3,"v":4.1},{"s":"TW_9","h":13.5,"v":4.1},{"s":"TW_9","h":13.6,"v":4.2},{"s":"TW_9","h":14.1,"v":4.2},{"s":"TW_9","h":14.2,"v":4.3},{"s":"TW_9","h":14.4,"v":4.3},{"s":"TW_9","h":14.55,"v":4.1},{"s":"TW_9","h":14.6,"v":4.1},{"s":"TW_9","h":14.7,"v":4.0},{"s":"TW_9","h":14.8,"v":4.0},{"s":"TW_9","h":14.9,"v":3.9},{"s":"TW_9","h":15.0,"v":3.9},{"s":"TW_9","h":15.1,"v":3.8},{"s":"TW_9","h":15.25,"v":3.8},{"s":"TW_9","h":15.35,"v":3.7},{"s":"TW_9","h":15.5,"v":3.7},{"s":"TW_9","h":15.6,"v":3.6},{"s":"TW_9","h":15.75,"v":3.6},{"s":"TW_9","h":15.85,"v":3.5},{"s":"TW_9","h":16.0,"v":3.5},{"s":"TW_9","h":16.1,"v":3.4},{"s":"TW_9","h":16.35,"v":3.4},{"s":"TW_9","h":16.5,"v":3.3},{"s":"TW_9","h":16.7,"v":3.3},{"s":"TW_9","h":16.85,"v":3.2},{"s":"TW_9","h":17.1,"v":3.2},{"s":"TW_9","h":17.25,"v":3.1},{"s":"TW_9","h":17.45,"v":3.1},{"s":"TW_9","h":17.6,"v":3.0},{"s":"TW_9","h":17.95,"v":3.0},{"s":"TW_9","h":18.1,"v":2.9},{"s":"TW_9","h":18.3,"v":2.9},{"s":"TW_9","h":18.45,"v":2.8},{"s":"TW_9","h":18.7,"v":2.8},{"s":"TW_9","h":18.85,"v":2.7},{"s":"TW_9","h":19.0,"v":2.7},{"s":"TW_9","h":19.15,"v":2.6},{"s":"TW_9","h":19.25,"v":2.6},{"s":"TW_9","h":19.35,"v":2.5},{"s":"TW_9","h":19.45,"v":2.5},{"s":"TW_9","h":19.55,"v":2.4},{"s":"TW_9","h":19.65,"v":2.4},{"s":"TW_9","h":19.75,"v":2.3},{"s":"TW_9","h":20.5,"v":2.3},{"s":"TW_9","h":20.65,"v":2.2},{"s":"TW_9","h":22.8,"v":2.2},{"s":"TW_9","h":22.95,"v":2.3},{"s":"TW_9","h":23.2,"v":2.3},{"s":"TW_9","h":23.35,"v":2.4},{"s":"TW_9","h":23.5,"v":2.4},{"s":"TW_9","h":23.65,"v":2.5},{"s":"TW_9","h":24.3,"v":2.5},{"s":"TW_9","h":24.45,"v":2.6},{"s":"TW_9","h":25.4,"v":2.6},{"s":"TW_9","h":25.55,"v":2.7},{"s":"TW_9","h":27.6,"v":2.7},{"s":"TW_9","h":27.75,"v":2.8},{"s":"TW_9","h":28.8,"v":2.8},{"s":"TW_9","h":28.95,"v":2.9},{"s":"TW_9","h":29.7,"v":2.9},{"s":"TW_9","h":29.85,"v":3.0},{"s":"TW_9","h":30.4,"v":3.0},{"s":"TW_9","h":30.55,"v":3.1},{"s":"TW_9","h":30.85,"v":3.1},{"s":"TW_9","h":31.0,"v":3.2},{"s":"TW_9","h":31.8,"v":3.2},{"s":"TW_9","h":31.95,"v":3.3},{"s":"TW_9","h":32.2,"v":3.3},{"s":"TW_9","h":32.35,"v":3.4},{"s":"TW_9","h":32.6,"v":3.4},{"s":"TW_9","h":32.75,"v":3.5},{"s":"TW_9","h":33.0,"v":3.5}
    ],
    "tl": [
      {"s":"TL","h":3.0,"v":2.1},{"s":"TL","h":3.09,"v":2.2},{"s":"TL","h":3.18,"v":2.0},{"s":"TL","h":3.33,"v":2.0},{"s":"TL","h":3.42,"v":2.1},{"s":"TL","h":3.6,"v":2.1},{"s":"TL","h":3.69,"v":2.0},{"s":"TL","h":3.94,"v":2.0},{"s":"TL","h":4.02,"v":1.9},{"s":"TL","h":4.53,"v":1.9},{"s":"TL","h":4.6,"v":1.8},{"s":"TL","h":4.93,"v":1.8},{"s":"TL","h":5.11,"v":1.6},{"s":"TL","h":5.19,"v":1.7},{"s":"TL","h":5.28,"v":1.6},{"s":"TL","h":5.35,"v":1.6},{"s":"TL","h":5.44,"v":1.7},{"s":"TL","h":5.52,"v":1.6},{"s":"TL","h":5.59,"v":1.6},{"s":"TL","h":5.68,"v":1.5},{"s":"TL","h":6.08,"v":1.5},{"s":"TL","h":6.2,"v":1.6},{"s":"TL","h":6.28,"v":1.6},{"s":"TL","h":6.36,"v":1.5},{"s":"TL","h":6.44,"v":1.6},{"s":"TL","h":6.53,"v":1.6},{"s":"TL","h":6.6,"v":1.5},{"s":"TL","h":6.75,"v":1.5},{"s":"TL","h":6.84,"v":1.4},{"s":"TL","h":7.0,"v":1.4},{"s":"TL","h":7.08,"v":1.3},{"s":"TL","h":7.16,"v":1.3},{"s":"TL","h":7.28,"v":1.2},{"s":"TL","h":7.53,"v":1.2},{"s":"TL","h":7.68,"v":1.4},{"s":"TL","h":7.77,"v":1.3},{"s":"TL","h":7.83,"v":1.2},{"s":"TL","h":7.91,"v":1.2},{"s":"TL","h":8.03,"v":1.3},{"s":"TL","h":8.12,"v":1.3},{"s":"TL","h":8.27,"v":1.1},{"s":"TL","h":8.34,"v":1.1},{"s":"TL","h":8.43,"v":1.0},{"s":"TL","h":8.56,"v":1.0},{"s":"TL","h":8.65,"v":0.9},{"s":"TL","h":8.71,"v":0.9},{"s":"TL","h":8.79,"v":0.8},{"s":"TL","h":9.18,"v":0.8},{"s":"TL","h":9.27,"v":0.7},{"s":"TL","h":9.82,"v":0.7},{"s":"TL","h":9.92,"v":0.8},{"s":"TL","h":10.0,"v":0.8},{"s":"TL","h":10.17,"v":1.0},{"s":"TL","h":10.28,"v":0.9},{"s":"TL","h":10.35,"v":0.9},{"s":"TL","h":10.46,"v":1.0},{"s":"TL","h":10.54,"v":1.0},{"s":"TL","h":10.59,"v":0.9},{"s":"TL","h":10.68,"v":1.0},{"s":"TL","h":10.93,"v":1.0},{"s":"TL","h":11.1,"v":0.8},{"s":"TL","h":11.17,"v":0.9},{"s":"TL","h":11.42,"v":0.9},{"s":"TL","h":11.77,"v":1.3},{"s":"TL","h":11.92,"v":1.3},{"s":"TL","h":12.01,"v":1.4},{"s":"TL","h":12.1,"v":1.4},{"s":"TL","h":12.17,"v":1.3},{"s":"TL","h":12.26,"v":1.4},{"s":"TL","h":12.35,"v":1.6},{"s":"TL","h":12.43,"v":1.5},{"s":"TL","h":12.52,"v":1.6},{"s":"TL","h":12.61,"v":1.4},{"s":"TL","h":12.67,"v":1.4},{"s":"TL","h":12.77,"v":1.2},{"s":"TL","h":12.84,"v":1.3},{"s":"TL","h":12.93,"v":1.1},{"s":"TL","h":13.01,"v":1.2},{"s":"TL","h":13.16,"v":1.2},{"s":"TL","h":13.25,"v":1.3},{"s":"TL","h":13.34,"v":1.3},{"s":"TL","h":13.43,"v":1.4},{"s":"TL","h":13.55,"v":1.3},{"s":"TL","h":13.6,"v":1.3},{"s":"TL","h":13.77,"v":1.5},{"s":"TL","h":14.34,"v":1.5},{"s":"TL","h":14.43,"v":1.4},{"s":"TL","h":14.58,"v":1.4},{"s":"TL","h":14.67,"v":1.5},{"s":"TL","h":14.76,"v":1.4},{"s":"TL","h":14.85,"v":1.6},{"s":"TL","h":14.94,"v":1.7},{"s":"TL","h":15.01,"v":1.6},{"s":"TL","h":15.1,"v":1.7},{"s":"TL","h":15.19,"v":1.6},{"s":"TL","h":15.34,"v":1.6},{"s":"TL","h":15.43,"v":1.5},{"s":"TL","h":15.51,"v":1.5},{"s":"TL","h":15.76,"v":1.2},{"s":"TL","h":15.83,"v":1.2},{"s":"TL","h":15.91,"v":1.1},{"s":"TL","h":16.0,"v":1.2},{"s":"TL","h":16.09,"v":1.1},{"s":"TL","h":16.16,"v":1.1},{"s":"TL","h":16.27,"v":1.3},{"s":"TL","h":16.34,"v":1.3},{"s":"TL","h":16.43,"v":1.2},{"s":"TL","h":16.76,"v":1.2},{"s":"TL","h":16.85,"v":1.1},{"s":"TL","h":16.92,"v":1.1},{"s":"TL","h":17.09,"v":0.9},{"s":"TL","h":17.24,"v":0.9},{"s":"TL","h":17.33,"v":0.8},{"s":"TL","h":17.42,"v":0.9},{"s":"TL","h":17.91,"v":0.9},{"s":"TL","h":18.01,"v":1.0},{"s":"TL","h":18.09,"v":0.9},{"s":"TL","h":18.17,"v":0.9},{"s":"TL","h":18.32,"v":0.7},{"s":"TL","h":18.44,"v":0.8},{"s":"TL","h":18.57,"v":0.8},{"s":"TL","h":18.68,"v":0.7},{"s":"TL","h":19.34,"v":0.7},{"s":"TL","h":19.46,"v":0.6},{"s":"TL","h":19.53,"v":0.6},{"s":"TL","h":19.62,"v":0.7},{"s":"TL","h":20.51,"v":0.7},{"s":"TL","h":20.59,"v":0.8},{"s":"TL","h":20.67,"v":0.7},{"s":"TL","h":21.32,"v":0.7},{"s":"TL","h":21.43,"v":0.8},{"s":"TL","h":21.75,"v":0.8},{"s":"TL","h":21.84,"v":0.9},{"s":"TL","h":22.07,"v":0.9},{"s":"TL","h":22.16,"v":1.0},{"s":"TL","h":22.24,"v":1.0},{"s":"TL","h":22.34,"v":1.1},{"s":"TL","h":22.58,"v":1.1},{"s":"TL","h":22.67,"v":1.2},{"s":"TL","h":22.81,"v":1.2},{"s":"TL","h":22.94,"v":1.3},{"s":"TL","h":23.05,"v":1.3},{"s":"TL","h":23.1,"v":1.4},{"s":"TL","h":23.23,"v":1.4},{"s":"TL","h":23.34,"v":1.5},{"s":"TL","h":23.82,"v":1.5},{"s":"TL","h":23.91,"v":1.6},{"s":"TL","h":24.06,"v":1.6},{"s":"TL","h":24.14,"v":1.7},{"s":"TL","h":24.23,"v":1.7},{"s":"TL","h":24.34,"v":1.8},{"s":"TL","h":24.56,"v":1.8},{"s":"TL","h":24.64,"v":1.9},{"s":"TL","h":24.82,"v":1.9},{"s":"TL","h":24.91,"v":2.0},{"s":"TL","h":25.0,"v":2.0},{"s":"TL","h":25.09,"v":2.1},{"s":"TL","h":25.62,"v":2.1},{"s":"TL","h":25.74,"v":2.3},{"s":"TL","h":25.82,"v":2.3},{"s":"TL","h":25.91,"v":2.4},{"s":"TL","h":26.15,"v":2.4},{"s":"TL","h":26.24,"v":2.5},{"s":"TL","h":26.66,"v":2.5},{"s":"TL","h":26.74,"v":2.4},{"s":"TL","h":27.0,"v":2.4},{"s":"TL","h":27.18,"v":2.5},{"s":"TL","h":27.27,"v":2.5},{"s":"TL","h":27.34,"v":2.6},{"s":"TL","h":27.52,"v":2.6},{"s":"TL","h":27.61,"v":2.7},{"s":"TL","h":27.8,"v":2.7},{"s":"TL","h":27.89,"v":2.8},{"s":"TL","h":28.28,"v":2.8},{"s":"TL","h":28.37,"v":2.9},{"s":"TL","h":28.46,"v":2.9},{"s":"TL","h":28.66,"v":3.1},{"s":"TL","h":28.73,"v":3.1},{"s":"TL","h":28.82,"v":3.2},{"s":"TL","h":28.91,"v":3.3},{"s":"TL","h":29.02,"v":3.4},{"s":"TL","h":29.09,"v":3.4},{"s":"TL","h":29.18,"v":3.5},{"s":"TL","h":29.27,"v":3.5},{"s":"TL","h":29.38,"v":3.6},{"s":"TL","h":29.45,"v":3.6},{"s":"TL","h":29.56,"v":3.7},{"s":"TL","h":29.66,"v":3.7},{"s":"TL","h":29.78,"v":3.8},{"s":"TL","h":29.87,"v":3.8},{"s":"TL","h":29.96,"v":3.9},{"s":"TL","h":30.03,"v":3.9},{"s":"TL","h":30.09,"v":4.0},{"s":"TL","h":30.56,"v":4.0},{"s":"TL","h":30.64,"v":4.1},{"s":"TL","h":30.71,"v":4.1},{"s":"TL","h":30.8,"v":4.2},{"s":"TL","h":30.88,"v":4.2},{"s":"TL","h":30.95,"v":4.3},{"s":"TL","h":31.04,"v":4.3},{"s":"TL","h":31.11,"v":4.4},{"s":"TL","h":31.26,"v":4.5},{"s":"TL","h":31.33,"v":4.6},{"s":"TL","h":31.63,"v":4.6},{"s":"TL","h":31.79,"v":4.8},{"s":"TL","h":31.88,"v":4.8},{"s":"TL","h":31.97,"v":4.9},{"s":"TL","h":32.05,"v":5.0},{"s":"TL","h":32.14,"v":5.0},{"s":"TL","h":32.23,"v":5.1},{"s":"TL","h":32.32,"v":5.2},{"s":"TL","h":32.41,"v":5.1},{"s":"TL","h":32.5,"v":5.2},{"s":"TL","h":32.59,"v":5.3},{"s":"TL","h":32.75,"v":5.3},{"s":"TL","h":32.84,"v":5.4},{"s":"TL","h":33.0,"v":5.4}
    ]
  },
  "encoding": {
    "color": {
      "field": "s", "type": "nominal",
      "scale": {
        "domain": ["TW_1","TW_2","TW_3","TW_4","TW_7","TW_8","TW_9","TL","sunrise","Base min","Method min","Sander forecast","95% confidence"],
        "range": ["#000000","#000000","#000000","#000000","#000000","#000000","#000000","#1f77b4","#ffff00","#ff0000","#800080","#ff0000","#e5cce5"]
      },
      "legend": {
        "title": null,
        "encode": {
          "symbols": {"update": {
            "shape": {"signal": "datum.value === 'Sander forecast' ? 'M-1,-1L1,1M-1,1L1,-1' : datum.value === '95% confidence' ? 'M-1,-0.36H1V0.36H-1Z' : 'M-1,0H1'"},
            "size": {"signal": "datum.value === 'Sander forecast' ? 64 : 784"},
            "stroke": {"signal": "datum.value === '95% confidence' ? 'transparent' : scale('color', datum.value)"},
            "fill": {"signal": "datum.value === '95% confidence' ? scale('color', datum.value) : 'transparent'"},
            "strokeWidth": {"signal": "datum.value === 'Sander forecast' ? 1.5 : 2"},
            "opacity": {"value": 1},
            "fillOpacity": {"value": 1},
            "strokeOpacity": {"value": 1}
          }}
        }
      }
    }
  },
  "layer": [
    {
      "data": {"values": [{"s": "95% confidence", "h": 27.0, "h2": 33.0, "v": 1.766, "v2": 3.286}]},
      "mark": {"type": "rect"},
      "encoding": {
        "x": {"field": "h", "type": "quantitative", "scale": {"domain": [1.5, 34.5], "nice": false, "zero": false}, "axis": {"values": [5, 10, 15, 20, 25, 30], "title": "UTC time [hours]", "titlePadding": 6}},
        "x2": {"field": "h2"},
        "y": {"field": "v", "type": "quantitative", "scale": {"domain": [0.36, 5.64], "nice": false, "zero": false}, "axis": {"values": [1, 2, 3, 4, 5], "format": "d", "title": "Temperature [°C]", "titlePadding": 9}},
        "y2": {"field": "v2"}
      }
    },
    {
      "data": {"name": "tw"},
      "mark": {"type": "line", "strokeWidth": 2},
      "encoding": {
        "x": {"field": "h", "type": "quantitative"},
        "y": {"field": "v", "type": "quantitative"}
      }
    },
    {
      "data": {"name": "tl"},
      "mark": {"type": "line", "strokeWidth": 2},
      "encoding": {
        "x": {"field": "h", "type": "quantitative"},
        "y": {"field": "v", "type": "quantitative"}
      }
    },
    {
      "data": {"values": [{"g": "forecast", "h": 27.0}]},
      "mark": {"type": "rule", "strokeWidth": 2},
      "encoding": {
        "x": {"field": "h", "type": "quantitative"},
        "color": {"value": "#808080"}
      }
    },
    {
      "data": {"values": [{"s": "sunrise", "h": 7.82}, {"s": "sunrise", "h": 31.78}]},
      "mark": {"type": "rule", "strokeWidth": 2},
      "encoding": {
        "x": {"field": "h", "type": "quantitative"}
      }
    },
    {
      "data": {"values": [{"s": "Base min", "v": 2.70}, {"s": "Method min", "v": 2.57}]},
      "mark": {"type": "rule", "strokeWidth": 2},
      "encoding": {
        "y": {"field": "v", "type": "quantitative"}
      }
    },
    {
      "data": {"values": [
        {"s": "Sander forecast", "h": 27.0, "v": 2.70},
        {"s": "Sander forecast", "h": 28.0, "v": 3.0},
        {"s": "Sander forecast", "h": 29.0, "v": 3.15},
        {"s": "Sander forecast", "h": 30.0, "v": 3.30},
        {"s": "Sander forecast", "h": 31.0, "v": 3.12},
        {"s": "Sander forecast", "h": 32.0, "v": 2.88}
      ]},
      "mark": {"type": "point", "shape": "M-1,-1L1,1M-1,1L1,-1", "filled": false, "size": 64, "strokeWidth": 1.5, "opacity": 1},
      "encoding": {
        "x": {"field": "h", "type": "quantitative"},
        "y": {"field": "v", "type": "quantitative"}
      }
    }
  ]
}
